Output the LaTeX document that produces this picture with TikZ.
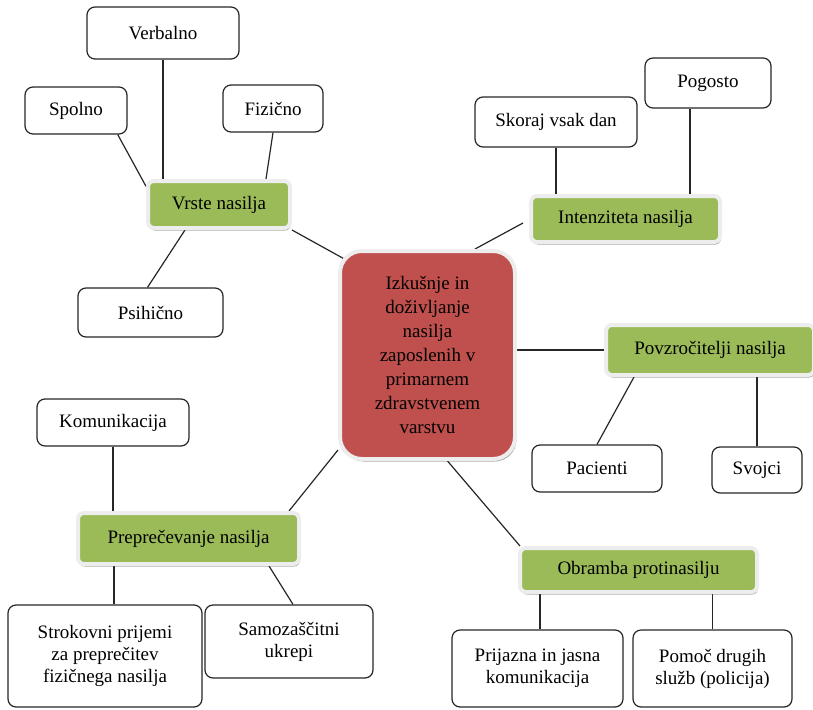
\documentclass[tikz,border=0pt]{standalone}
\usepackage{fontspec}
\setmainfont{Liberation Serif}
\usetikzlibrary{shadows,backgrounds,calc}
\definecolor{cred}{HTML}{C0504D}
\definecolor{cgreen}{HTML}{9BBB59}
\definecolor{cframe}{HTML}{EDEDED}
\begin{document}
\begin{tikzpicture}[x=1pt,y=-1pt,
  leaf/.style={draw=black!85, line width=1.2pt, fill=white, rounded corners=8pt,
    align=center, font=\fontsize{19}{22}\selectfont, inner sep=2pt},
  topic/.style={draw=cframe, line width=4pt, fill=cgreen, rounded corners=6pt,
    font=\fontsize{19}{22}\selectfont, inner sep=2pt,
    drop shadow={shadow xshift=1pt, shadow yshift=-2.5pt, opacity=0.35, fill=black}},
  core/.style={draw=cframe, line width=4pt, fill=cred, rounded corners=22pt,
    align=center, font=\fontsize{19}{24}\selectfont, inner sep=2pt,
    drop shadow={shadow xshift=1.5pt, shadow yshift=-2.5pt, opacity=0.35, fill=black}},
  link/.style={draw=black!85, line width=1.2pt}]
\useasboundingbox (0,0) rectangle (813,709);

% central node
\node[core, minimum width=175pt, minimum height=208pt] (center) at (427.5,355)
  {Izkušnje in\\doživljanje\\nasilja\\zaposlenih v\\primarnem\\zdravstvenem\\varstvu};

% topic nodes
\node[topic, minimum width=142pt, minimum height=47pt] (vrste) at (219,204.5) {Vrste nasilja};
\node[topic, minimum width=189pt, minimum height=46pt] (intenz) at (625.5,219) {Intenziteta nasilja};
\node[topic, minimum width=208pt, minimum height=50pt] (povz) at (710,350) {Povzročitelji nasilja};
\node[topic, minimum width=221pt, minimum height=51pt] (prep) at (188.5,538.5) {Preprečevanje nasilja};
\node[topic, minimum width=237pt, minimum height=44pt] (obramba) at (638.5,570) {Obramba protinasilju};

% leaf nodes
\node[leaf, minimum width=152pt, minimum height=52pt] (verbalno) at (163,33) {Verbalno};
\node[leaf, minimum width=102pt, minimum height=47pt] (spolno) at (76,110.5) {Spolno};
\node[leaf, minimum width=100pt, minimum height=47pt] (fizicno) at (273,108.5) {Fizično};
\node[leaf, minimum width=145pt, minimum height=49pt] (psihicno) at (150.5,312.5) {Psihično};
\node[leaf, minimum width=162pt, minimum height=50pt] (skoraj) at (556,122) {Skoraj vsak dan};
\node[leaf, minimum width=126pt, minimum height=50pt] (pogosto) at (708,83) {Pogosto};
\node[leaf, minimum width=130pt, minimum height=47pt] (pacienti) at (597,468.5) {Pacienti};
\node[leaf, minimum width=90pt, minimum height=46pt] (svojci) at (757,470) {Svojci};
\node[leaf, minimum width=152pt, minimum height=47pt] (komun) at (113,422.5) {Komunikacija};
\node[leaf, minimum width=194pt, minimum height=102pt] (strok) at (105,656) {Strokovni prijemi\\za preprečitev\\fizičnega nasilja};
\node[leaf, minimum width=168pt, minimum height=73pt] (samoz) at (289,641.5) {Samozaščitni\\ukrepi};
\node[leaf, minimum width=171pt, minimum height=77pt] (prijazna) at (537.5,668.5) {Prijazna in jasna\\komunikacija};
\node[leaf, minimum width=159pt, minimum height=77pt] (pomoc) at (712.5,668.5) {Pomoč drugih\\služb (policija)};

% helper coordinates
\coordinate (fizE) at ([xshift=47pt]vrste.north);
\coordinate (psiE) at ([xshift=-34pt]vrste.south);
\coordinate (pogS) at ([xshift=-18pt]pogosto.south);
\coordinate (strN) at ([xshift=9pt]strok.north);
\coordinate (priN) at ([xshift=2.5pt]prijazna.north);

\begin{pgfonlayer}{background}
\draw[link] (verbalno.south) -- (verbalno.south |- vrste.north);
\draw[link] (spolno.-30) -- (vrste.166);
\draw[link] (fizicno.south) -- (fizE);
\draw[link] ([xshift=-3pt]psihicno.north) -- (psiE);
\draw[link] (vrste.south east) -- ($(center.north west)+(10,12)$);

\draw[link] ($(center.north)+(47.5,0)$) -- ($(intenz.west)+(-6,4)$);
\draw[link] (skoraj.south) -- (skoraj.south |- intenz.north);
\draw[link] (pogS) -- (pogS |- intenz.north);

\draw[link] ($(center.east)+(0,-5)$) -- (povz.west);
\draw[link] ($(povz.south west)+(30,0)$) -- (pacienti.north);
\draw[link] (svojci.north) -- (svojci.north |- povz.south);

\draw[link] ($(center.south west)+(0,-11)$) -- ($(prep.north east)+(-12,0)$);
\draw[link] (komun.south) -- (komun.south |- prep.north);
\draw[link] (strN) -- (strN |- prep.south);
\draw[link] ($(prep.south east)+(-32,0)$) -- ([xshift=4pt]samoz.north);

\draw[link] ($(center.south)+(20,0)$) -- ($(obramba.north west)+(2,0)$);
\draw[link] (priN) -- (priN |- obramba.south);
\draw[link] (pomoc.north) -- (pomoc.north |- obramba.south);
\end{pgfonlayer}
\end{tikzpicture}
\end{document}
